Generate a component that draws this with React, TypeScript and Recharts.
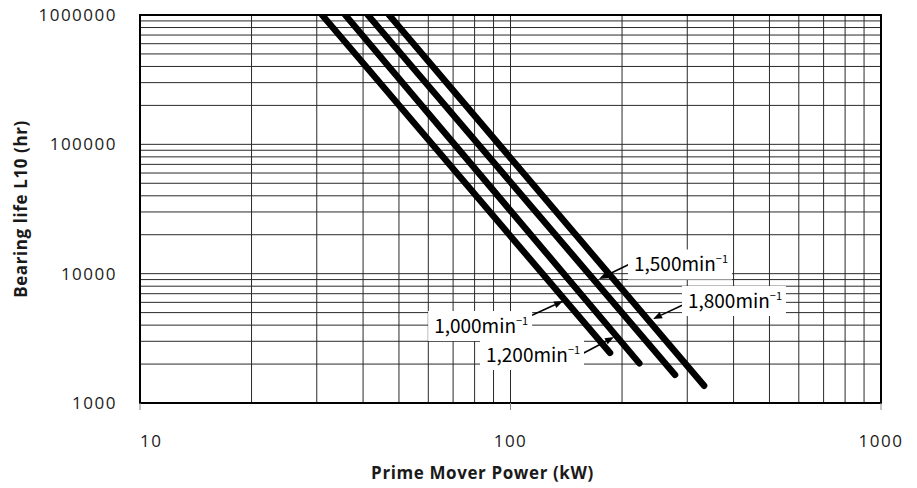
import React from 'react';
import {
  LineChart, Line, XAxis, YAxis, CartesianGrid,
  ReferenceArea, ReferenceLine, ReferenceDot
} from 'recharts';

// log grid ticks
const powerTicks = [10, 20, 30, 40, 50, 60, 70, 80, 90, 100, 200, 300, 400, 500, 600, 700, 800, 900, 1000];
const lifeTicks = [
  1000, 2000, 3000, 4000, 5000, 6000, 7000, 8000, 9000,
  10000, 20000, 30000, 40000, 50000, 60000, 70000, 80000, 90000,
  100000, 200000, 300000, 400000, 500000, 600000, 700000, 800000, 900000, 1000000
];
const majorTicks = [10, 100, 1000, 10000, 100000, 1000000];

// one straight line (log-log) per speed
const speeds = ['1,000', '1,200', '1,500', '1,800'];
const startPower = [31, 35.8, 41.2, 47];
const startLife = [1000000, 1000000, 1000000, 1000000];
const endPower = [185.6, 222.7, 278, 333];
const endLife = [2440, 2030, 1650, 1360];

// label box centre and arrow (tail -> head), in chart units
const labelPower = [82.8, 114.3, 286.7, 401];
const labelLife = [3938, 2350, 11774, 6146];
const arrowFrom = [[110.1, 4541], [154, 2350], [215.4, 12310], [299.5, 5933]];
const arrowTo = [[138.6, 6146], [190.3, 3237], [173.3, 9095], [242.5, 4463]];

const series = speeds.map((s, i) => [
  { power: startPower[i], life: startLife[i] },
  { power: endPower[i], life: endLife[i] },
]);

const tickFont = { fontFamily: '"Open Sans", sans-serif', fontSize: 17, letterSpacing: 1.5, fill: '#1a1a1a' };

const XTick = (props: any) => {
  const { x, y, payload } = props;
  if (!majorTicks.includes(payload.value)) return <g />;
  const first = payload.value === 10;
  return (
    <g>
      <line x1={x} y1={y} x2={x} y2={y + 7} stroke="#888" />
      <text x={x} y={y + 44} textAnchor={first ? 'start' : 'middle'} style={tickFont}>
        {payload.value}
      </text>
    </g>
  );
};

const YTick = (props: any) => {
  const { x, y, payload } = props;
  if (!majorTicks.includes(payload.value)) return <g />;
  return (
    <text x={x - 23} y={y + 6} textAnchor="end" style={tickFont}>
      {payload.value}
    </text>
  );
};

const Arrow = (props: any) => {
  const { x1, y1, x2, y2 } = props;
  const a = Math.atan2(y2 - y1, x2 - x1);
  const len = 9, half = 3.5;
  const bx = x2 - len * Math.cos(a), by = y2 - len * Math.sin(a);
  const p1 = `${bx + half * Math.sin(a)},${by - half * Math.cos(a)}`;
  const p2 = `${bx - half * Math.sin(a)},${by + half * Math.cos(a)}`;
  return (
    <g>
      <line x1={x1} y1={y1} x2={bx} y2={by} stroke="#000" strokeWidth={1.6} />
      <polygon points={`${x2},${y2} ${p1} ${p2}`} fill="#000" />
    </g>
  );
};

const makeLabel = (speed: string) => (props: any) => {
  const { cx, cy } = props;
  return (
    <g>
      <rect x={cx - 52} y={cy - 15} width={104} height={30} fill="#fff" />
      <text x={cx - 46} y={cy + 7} style={{ fontFamily: '"Noto Sans CJK JP", sans-serif', fontSize: 19, fill: '#000' }}>
        {speed}min
        <tspan dy={-8} fontSize={11}>−1</tspan>
      </text>
    </g>
  );
};

export default function App() {
  return (
    <div style={{ position: 'absolute', left: 0, top: 0, background: '#fff' }}>
      <LineChart width={917} height={488} margin={{ top: 15, right: 36, bottom: 0, left: 0 }}>
        <CartesianGrid stroke="#2a2a2a" strokeWidth={1} />
        <XAxis
          dataKey="power" type="number" scale="log" domain={[10, 1000]} ticks={powerTicks}
          allowDataOverflow interval={0} tick={<XTick />} tickLine={false} axisLine={false}
          tickSize={0} tickMargin={0} height={85}
          label={{
            value: 'Prime Mover Power (kW)', position: 'insideBottom', offset: 9, dx: -28,
            style: { fontFamily: '"Open Sans", sans-serif', fontWeight: 700, fontSize: 17, letterSpacing: 0.6, fill: '#1a1a1a' },
          }}
        />
        <YAxis
          dataKey="life" type="number" scale="log" domain={[1000, 1000000]} ticks={lifeTicks}
          allowDataOverflow interval={0} tick={<YTick />} tickLine={false} axisLine={false}
          tickSize={0} tickMargin={0} width={140}
          label={{
            value: 'Bearing life L10 (hr)', angle: -90, position: 'insideLeft', offset: 21,
            style: { textAnchor: 'middle', fontFamily: '"Open Sans", sans-serif', fontWeight: 700, fontSize: 17, letterSpacing: 0.6, fill: '#1a1a1a' },
          }}
        />
        <ReferenceArea x1={10} x2={1000} y1={1000} y2={1000000} fill="none" stroke="#000" strokeWidth={2} />
        {series.map((d, i) => (
          <Line
            key={speeds[i]} data={d} dataKey="life" stroke="#000" strokeWidth={6.5}
            strokeLinecap="round" dot={false} isAnimationActive={false}
          />
        ))}
        {speeds.map((s, i) => (
          <ReferenceDot key={'l' + s} x={labelPower[i]} y={labelLife[i]} r={0} shape={makeLabel(s)} />
        ))}
        {speeds.map((s, i) => (
          <ReferenceLine
            key={'a' + s}
            segment={[{ x: arrowFrom[i][0], y: arrowFrom[i][1] }, { x: arrowTo[i][0], y: arrowTo[i][1] }]}
            shape={<Arrow />}
          />
        ))}
      </LineChart>
    </div>
  );
}
